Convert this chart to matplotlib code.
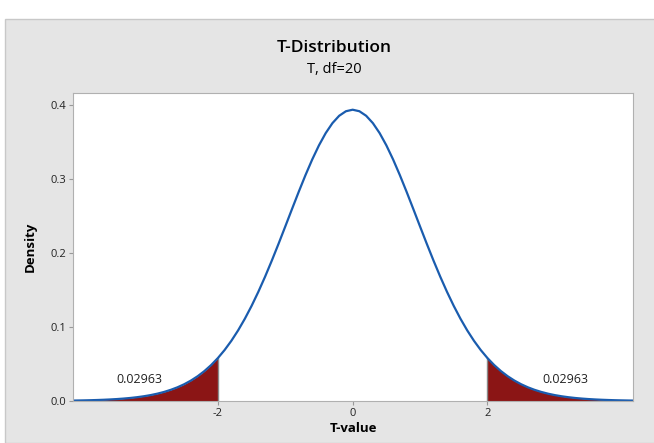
import numpy as np
import matplotlib.pyplot as plt
from matplotlib.patches import Rectangle

# t density, df=20 (symmetric, right half listed)
t_half = [0.0, 0.1, 0.2, 0.3, 0.4, 0.5, 0.6, 0.7, 0.8, 0.9,
          1.0, 1.1, 1.2, 1.3, 1.4, 1.5, 1.6, 1.7, 1.8, 1.9,
          2.0, 2.1, 2.2, 2.3, 2.4, 2.5, 2.6, 2.7, 2.8, 2.9,
          3.0, 3.1, 3.2, 3.3, 3.4, 3.5, 3.6, 3.7, 3.8, 3.9,
          4.0, 4.1, 4.2]
dens_half = [0.39399, 0.39193, 0.38581, 0.37585, 0.36237, 0.34581, 0.32669, 0.30557, 0.28304, 0.25968,
             0.23604, 0.21262, 0.18986, 0.16809, 0.14763, 0.12863, 0.11124, 0.09550, 0.08144, 0.06899,
             0.05809, 0.04862, 0.04048, 0.03352, 0.02763, 0.02267, 0.01852, 0.01508, 0.01223, 0.00988,
             0.00796, 0.00640, 0.00513, 0.00410, 0.00328, 0.00261, 0.00208, 0.00165, 0.00131, 0.00104,
             0.00082, 0.00065, 0.00052]
crit = 2.0
tail_label = "0.02963"
x_ticks = [-2, 0, 2]
y_ticks = [0.0, 0.1, 0.2, 0.3, 0.4]

plt.rcParams['font.family'] = ['Open Sans', 'DejaVu Sans']

t = np.concatenate([-np.array(t_half[:0:-1]), np.array(t_half)])
d = np.concatenate([np.array(dens_half[:0:-1]), np.array(dens_half)])

fig = plt.figure(figsize=(6.54, 4.43), dpi=100, facecolor='white')
bg = Rectangle((5/654, 0), 1, (443-19)/443, transform=fig.transFigure,
               facecolor='#e5e5e5', edgecolor='#c8c8c8', lw=1, zorder=-5)
fig.add_artist(bg)

ax = fig.add_axes([73/654, 42/443, 560/654, 308/443])
ax.set_facecolor('white')

left = t <= -crit + 1e-9
right = t >= crit - 1e-9
d_crit = d[np.isclose(t, crit)][0]
ax.fill_between(t[left], 0, d[left], color='#8b1515', lw=0)
ax.fill_between(t[right], 0, d[right], color='#8b1515', lw=0)
ax.plot([-crit, -crit], [0, d_crit], color='#8a8a8a', lw=1.0)
ax.plot([crit, crit], [0, d_crit], color='#8a8a8a', lw=1.0)
ax.plot(t, d, color='#1a5cae', lw=1.6)

ax.text(-3.17, 0.0295, tail_label, ha='center', va='center', fontsize=9, color='#222222')
ax.text(3.16, 0.0295, tail_label, ha='center', va='center', fontsize=9, color='#222222')

ax.set_xlim(-4.15, 4.16)
ax.set_ylim(0, 0.4166)
ax.set_xticks(x_ticks)
ax.set_xticklabels([str(v) for v in x_ticks])
ax.set_yticks(y_ticks)
ax.set_yticklabels(['%.1f' % v for v in y_ticks])
ax.tick_params(labelsize=8, length=3, width=0.8, color='#999999', labelcolor='#222222', pad=2)
for s in ax.spines.values():
    s.set_color('#b0b0b0')
    s.set_linewidth(0.8)

ax.set_xlabel('T-value', fontsize=9.5, fontweight='bold', labelpad=2)
ax.set_ylabel('Density', fontsize=9.5, fontweight='bold', labelpad=10)

fig.text(0.511, 0.892, 'T-Distribution', ha='center', va='center', fontsize=12.5, fontweight='semibold')
fig.text(0.511, 0.842, 'T, df=20', ha='center', va='center', fontsize=10.5)

fig.savefig('out.png', dpi=100, facecolor=fig.get_facecolor())
